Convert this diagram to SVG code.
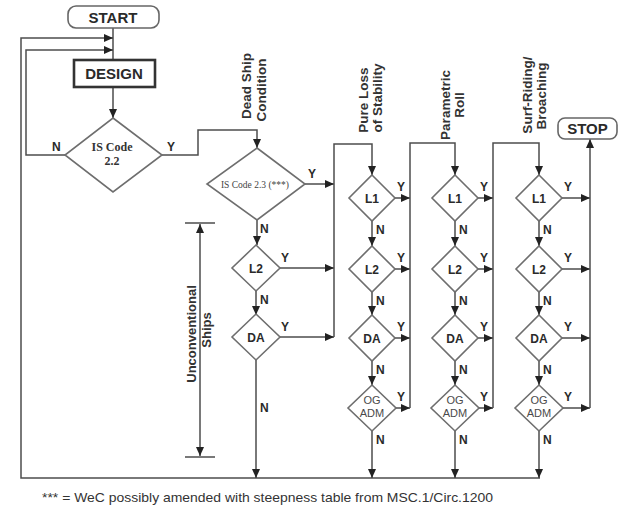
<svg xmlns="http://www.w3.org/2000/svg" width="622" height="506" viewBox="0 0 622 506">
  <defs>
    <marker id="arrow" markerUnits="userSpaceOnUse" markerWidth="10" markerHeight="8" refX="9" refY="4" orient="auto-start-reverse">
      <path d="M0,0 L9,4 L0,8 z" fill="#222"/>
    </marker>
    <style>
      .bg { fill: #ffffff; }
      .conn { fill: none; stroke: #4d4d4d; stroke-width: 1.5; }
      .arr { marker-end: url(#arrow); }
      .dia { fill: #ffffff; stroke: #6e6e6e; stroke-width: 1.6; }
      .term { fill: #ffffff; stroke: #666; stroke-width: 1.6; }
      .box { fill: #ffffff; stroke: #333; stroke-width: 2.6; }
      .t { font-family: "Liberation Sans", Arial, sans-serif; fill: #2a2a2a; font-weight: bold; }
      .big { font-size: 15px; text-anchor: middle; }
      .lab { font-size: 12px; text-anchor: middle; }
      .yn { font-size: 12px; }
      .hdr { font-size: 13.5px; text-anchor: middle; fill: #333; }
      .og { font-family: "Liberation Sans", Arial, sans-serif; font-size: 11px; text-anchor: middle; fill: #4a4a4a; }
      .serif { font-family: "Liberation Serif", "Times New Roman", serif; font-weight: bold; fill: #333; text-anchor: middle; }
      .small { font-size: 9.5px; font-weight: normal; fill: #444; }
      .note { font-family: "Liberation Sans", Arial, sans-serif; font-size: 13.5px; fill: #333; }
    </style>
  </defs>

  <rect class="bg" x="0" y="0" width="622" height="506"/>

  <!-- connectors -->
  <g id="connectors">
    <!-- start to design, with two return paths -->
    <path class="conn" d="M113,28 V60"/>
    <path class="conn arr" d="M540,478 H21 V38 H113"/>
    <path class="conn arr" d="M65,155 H26 V50 H113"/>
    <path class="conn arr" d="M113,87 V118"/>
    <!-- IS Code 2.2 yes to IS Code 2.3 -->
    <path class="conn arr" d="M162,155 H198 V130 H257 V148"/>
    <path class="conn arr" d="M305,184 H334"/>
    <path class="conn arr" d="M257,220 V245"/>
    <path class="conn arr" d="M280,268 H334"/>
    <path class="conn arr" d="M256,291 V315"/>
    <path class="conn arr" d="M280,337 H334"/>
    <path class="conn arr" d="M256,360 V478"/>
    <!-- entry to pure loss column -->
    <path class="conn arr" d="M334,337 V144 H372 V175"/>

    <!-- pure loss column -->
    <path class="conn arr" d="M395,198 H410"/>
    <path class="conn arr" d="M395,269 H410"/>
    <path class="conn arr" d="M395,338 H410"/>
    <path class="conn arr" d="M396,408 H410"/>
    <path class="conn arr" d="M372,221 V246"/>
    <path class="conn arr" d="M372,292 V315"/>
    <path class="conn arr" d="M372,361 V385"/>
    <path class="conn arr" d="M372,431 V478"/>
    <path class="conn arr" d="M410,408 V143 H455 V175"/>

    <!-- parametric roll column -->
    <path class="conn arr" d="M478,198 H493"/>
    <path class="conn arr" d="M478,269 H493"/>
    <path class="conn arr" d="M478,338 H493"/>
    <path class="conn arr" d="M479,408 H493"/>
    <path class="conn arr" d="M455,221 V246"/>
    <path class="conn arr" d="M455,292 V315"/>
    <path class="conn arr" d="M455,361 V385"/>
    <path class="conn arr" d="M455,431 V478"/>
    <path class="conn arr" d="M493,408 V143 H539 V175"/>

    <!-- surf-riding column -->
    <path class="conn arr" d="M562,198 H590"/>
    <path class="conn arr" d="M562,269 H590"/>
    <path class="conn arr" d="M562,338 H590"/>
    <path class="conn arr" d="M563,408 H590"/>
    <path class="conn arr" d="M539,221 V246"/>
    <path class="conn arr" d="M539,292 V315"/>
    <path class="conn arr" d="M539,361 V385"/>
    <path class="conn arr" d="M539,431 V478"/>
    <path class="conn arr" d="M590,408 V139"/>

    <!-- unconventional ships span -->
    <path class="conn" d="M185,223 H215 M185,457 H215"/>
    <path class="conn" d="M200,224 V456" marker-start="url(#arrow)" marker-end="url(#arrow)"/>
  </g>

  <!-- terminals and process -->
  <g id="start">
    <rect class="term" x="68" y="6" width="91" height="22" rx="8"/>
    <text class="t big" x="113" y="22.5">START</text>
  </g>
  <g id="design">
    <rect class="box" x="74" y="60" width="81" height="27"/>
    <text class="t big" x="114" y="79">DESIGN</text>
  </g>
  <g id="stop">
    <rect class="term" x="558" y="118" width="59" height="21" rx="7"/>
    <text class="t big" x="587.5" y="134">STOP</text>
  </g>

  <!-- intact stability checks -->
  <g id="is-code-22">
    <polygon class="dia" points="113,118 162,155 113,192 65,155"/>
    <text class="serif" font-size="12" x="112" y="151">IS Code</text>
    <text class="serif" font-size="12" x="112" y="165">2.2</text>
    <text class="t yn" x="52" y="151">N</text>
    <text class="t yn" x="167" y="151">Y</text>
  </g>
  <g id="is-code-23">
    <polygon class="dia" points="257,148 305,184 257,220 207,184"/>
    <text class="serif small" x="255" y="187.5">IS Code 2.3 (***)</text>
    <text class="t yn" x="308" y="178">Y</text>
    <text class="t yn" x="260" y="233">N</text>
  </g>

  <!-- dead ship condition column -->
  <g id="ds-l2">
    <polygon class="dia" points="256,245 280,268 256,291 232,268"/>
    <text class="t lab" x="256" y="272.5">L2</text>
    <text class="t yn" x="281" y="262">Y</text>
    <text class="t yn" x="260" y="304">N</text>
  </g>
  <g id="ds-da">
    <polygon class="dia" points="256,314 280,337 256,360 232,337"/>
    <text class="t lab" x="256" y="341.5">DA</text>
    <text class="t yn" x="281" y="331">Y</text>
    <text class="t yn" x="260" y="412">N</text>
  </g>

  <!-- pure loss of stability column -->
  <g id="pl-l1">
    <polygon class="dia" points="372,175 395,198 372,221 349,198"/>
    <text class="t lab" x="372" y="202.5">L1</text>
    <text class="t yn" x="397" y="191">Y</text>
    <text class="t yn" x="376" y="234">N</text>
  </g>
  <g id="pl-l2">
    <polygon class="dia" points="372,246 395,269 372,292 349,269"/>
    <text class="t lab" x="372" y="273.5">L2</text>
    <text class="t yn" x="397" y="262">Y</text>
    <text class="t yn" x="376" y="305">N</text>
  </g>
  <g id="pl-da">
    <polygon class="dia" points="372,315 395,338 372,361 349,338"/>
    <text class="t lab" x="372" y="342.5">DA</text>
    <text class="t yn" x="397" y="331">Y</text>
    <text class="t yn" x="376" y="374">N</text>
  </g>
  <g id="pl-og">
    <polygon class="dia" points="372,385 396,408 372,431 348,408"/>
    <text class="og" x="372" y="404">OG</text>
    <text class="og" x="372" y="417">ADM</text>
    <text class="t yn" x="397" y="401">Y</text>
    <text class="t yn" x="376" y="444">N</text>
  </g>

  <!-- parametric roll column -->
  <g id="pr-l1">
    <polygon class="dia" points="455,175 478,198 455,221 432,198"/>
    <text class="t lab" x="455" y="202.5">L1</text>
    <text class="t yn" x="480" y="191">Y</text>
    <text class="t yn" x="459" y="234">N</text>
  </g>
  <g id="pr-l2">
    <polygon class="dia" points="455,246 478,269 455,292 432,269"/>
    <text class="t lab" x="455" y="273.5">L2</text>
    <text class="t yn" x="480" y="262">Y</text>
    <text class="t yn" x="459" y="305">N</text>
  </g>
  <g id="pr-da">
    <polygon class="dia" points="455,315 478,338 455,361 432,338"/>
    <text class="t lab" x="455" y="342.5">DA</text>
    <text class="t yn" x="480" y="331">Y</text>
    <text class="t yn" x="459" y="374">N</text>
  </g>
  <g id="pr-og">
    <polygon class="dia" points="455,385 479,408 455,431 431,408"/>
    <text class="og" x="455" y="404">OG</text>
    <text class="og" x="455" y="417">ADM</text>
    <text class="t yn" x="480" y="401">Y</text>
    <text class="t yn" x="459" y="444">N</text>
  </g>

  <!-- surf-riding / broaching column -->
  <g id="sr-l1">
    <polygon class="dia" points="539,175 562,198 539,221 516,198"/>
    <text class="t lab" x="539" y="202.5">L1</text>
    <text class="t yn" x="564" y="191">Y</text>
    <text class="t yn" x="543" y="234">N</text>
  </g>
  <g id="sr-l2">
    <polygon class="dia" points="539,246 562,269 539,292 516,269"/>
    <text class="t lab" x="539" y="273.5">L2</text>
    <text class="t yn" x="564" y="262">Y</text>
    <text class="t yn" x="543" y="305">N</text>
  </g>
  <g id="sr-da">
    <polygon class="dia" points="539,315 562,338 539,361 516,338"/>
    <text class="t lab" x="539" y="342.5">DA</text>
    <text class="t yn" x="564" y="331">Y</text>
    <text class="t yn" x="543" y="374">N</text>
  </g>
  <g id="sr-og">
    <polygon class="dia" points="539,385 563,408 539,431 515,408"/>
    <text class="og" x="539" y="404">OG</text>
    <text class="og" x="539" y="417">ADM</text>
    <text class="t yn" x="564" y="401">Y</text>
    <text class="t yn" x="543" y="444">N</text>
  </g>

  <!-- column headings -->
  <g id="headings">
    <text class="t hdr" transform="translate(251,86) rotate(-90)">Dead Ship</text>
    <text class="t hdr" transform="translate(266,90) rotate(-90)">Condition</text>
    <text class="t hdr" transform="translate(368,100) rotate(-90)">Pure Loss</text>
    <text class="t hdr" transform="translate(382,98) rotate(-90)">of Stability</text>
    <text class="t hdr" transform="translate(450,105) rotate(-90)">Parametric</text>
    <text class="t hdr" transform="translate(464,105) rotate(-90)">Roll</text>
    <text class="t hdr" transform="translate(532,95) rotate(-90)">Surf-Riding/</text>
    <text class="t hdr" transform="translate(546,96) rotate(-90)">Broaching</text>
    <text class="t hdr" style="font-size:13px" transform="translate(196,334) rotate(-90)">Unconventional</text>
    <text class="t hdr" style="font-size:13px" transform="translate(211,330) rotate(-90)">Ships</text>
  </g>

  <text class="note" x="42" y="502" textLength="451" lengthAdjust="spacingAndGlyphs">*** = WeC possibly amended with steepness table from MSC.1/Circ.1200</text>
</svg>
